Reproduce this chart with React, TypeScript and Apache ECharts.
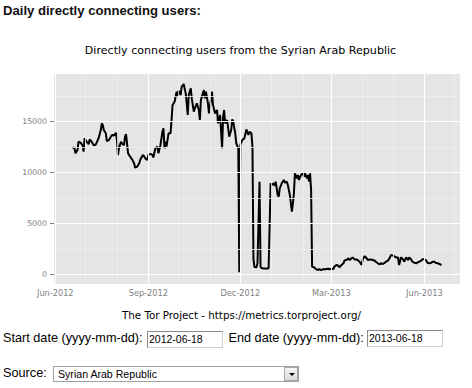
import React, { useEffect, useRef } from "react";
import * as echarts from "echarts";

const dates: string[] = [
  "2012-06-18","2012-06-20","2012-06-21","2012-06-23","2012-06-24","2012-06-26","2012-06-28","2012-06-29","2012-06-30",
  "2012-07-02","2012-07-04","2012-07-05","2012-07-07","2012-07-09","2012-07-11","2012-07-13","2012-07-14","2012-07-16",
  "2012-07-17","2012-07-18","2012-07-19","2012-07-21","2012-07-22","2012-07-24","2012-07-26","2012-07-27","2012-07-29",
  "2012-07-31","2012-08-01","2012-08-02","2012-08-03","2012-08-05","2012-08-06","2012-08-08","2012-08-09","2012-08-10",
  "2012-08-12","2012-08-13","2012-08-14","2012-08-16","2012-08-18","2012-08-19","2012-08-21","2012-08-23","2012-08-24",
  "2012-08-26","2012-08-27","2012-08-29","2012-08-31","2012-09-01","2012-09-03","2012-09-05","2012-09-06","2012-09-08",
  "2012-09-10","2012-09-11","2012-09-13","2012-09-15","2012-09-16","2012-09-17","2012-09-18","2012-09-19","2012-09-21",
  "2012-09-23","2012-09-24","2012-09-25","2012-09-27","2012-09-29","2012-09-30","2012-10-01","2012-10-03","2012-10-04",
  "2012-10-06","2012-10-08","2012-10-09","2012-10-10","2012-10-11","2012-10-13","2012-10-14","2012-10-16","2012-10-17",
  "2012-10-19","2012-10-21","2012-10-22","2012-10-23","2012-10-25","2012-10-26","2012-10-27","2012-10-28","2012-10-30",
  "2012-10-31","2012-11-01","2012-11-03","2012-11-04","2012-11-06","2012-11-08","2012-11-09","2012-11-11","2012-11-13",
  "2012-11-14","2012-11-15","2012-11-16","2012-11-18","2012-11-19","2012-11-20","2012-11-22","2012-11-23","2012-11-24",
  "2012-11-26","2012-11-27","2012-11-29","2012-11-30","2012-12-01","2012-12-03","2012-12-05","2012-12-07","2012-12-09",
  "2012-12-10","2012-12-12","2012-12-13","2012-12-14","2012-12-15","2012-12-17","2012-12-18","2012-12-20","2012-12-21",
  "2012-12-22","2012-12-24","2012-12-26","2012-12-28","2012-12-29","2012-12-31","2013-01-01","2013-01-03","2013-01-04",
  "2013-01-05","2013-01-07","2013-01-08","2013-01-09","2013-01-11","2013-01-13","2013-01-14","2013-01-16","2013-01-17",
  "2013-01-19","2013-01-21","2013-01-22","2013-01-23","2013-01-24","2013-01-26","2013-01-27","2013-01-28","2013-01-30",
  "2013-02-01","2013-02-02","2013-02-03","2013-02-05","2013-02-06","2013-02-07","2013-02-08","2013-02-09","2013-02-10",
  "2013-02-12","2013-02-14","2013-02-16","2013-02-17","2013-02-19","2013-02-21","2013-02-23","2013-02-24","2013-02-26",
  "2013-02-27","2013-03-01","2013-03-03","2013-03-04","2013-03-06","2013-03-08","2013-03-09","2013-03-11","2013-03-13",
  "2013-03-14","2013-03-15","2013-03-16","2013-03-18","2013-03-19","2013-03-21","2013-03-22","2013-03-24","2013-03-26",
  "2013-03-27","2013-03-29","2013-03-31","2013-04-01","2013-04-03","2013-04-05","2013-04-06","2013-04-08","2013-04-09",
  "2013-04-11","2013-04-13","2013-04-14","2013-04-16","2013-04-18","2013-04-19","2013-04-21","2013-04-23","2013-04-24",
  "2013-04-26","2013-04-28","2013-04-29","2013-05-01","2013-05-02","2013-05-04","2013-05-06","2013-05-07","2013-05-09",
  "2013-05-11","2013-05-12","2013-05-14","2013-05-16","2013-05-17","2013-05-19","2013-05-20","2013-05-22","2013-05-24",
  "2013-05-25","2013-05-27","2013-05-29","2013-05-30","2013-06-01","2013-06-03","2013-06-04","2013-06-06","2013-06-08",
  "2013-06-09","2013-06-11","2013-06-12","2013-06-14","2013-06-16","2013-06-18",
];

const users: number[] = [
  12490,12400,11900,12225,13040,12950,12700,12060,13370,
  13040,12800,13270,13040,12700,12750,13200,13430,14190,
  14840,14680,14190,13860,13110,13200,13530,13700,13650,
  13920,13200,11740,12400,13040,12870,12700,13530,13790,
  11900,11740,11580,11310,10920,10490,10590,10920,11250,
  11640,11740,11410,11250,11740,11840,11740,11500,12400,
  12560,11900,12700,14020,14350,12400,13040,12560,13860,
  13860,15170,16640,16960,17940,17450,18040,17610,18430,
  18700,17780,16800,15660,17610,18270,17290,15990,16310,
  16800,16150,15170,17120,17780,18100,17290,17940,16800,
  15820,16480,17940,16640,15820,16150,14840,15660,12400,
  15500,16150,14840,15170,14350,13530,14190,15230,15000,
  13860,12870,12400,250,12720,13200,13370,14250,13700,
  14020,13860,12560,1500,750,725,1120,9120,785,
  650,600,620,600,650,8960,8800,8960,8700,
  9120,7810,7650,8470,8960,9290,9040,9120,8800,
  7810,6180,7000,7980,9940,9450,9780,9290,9780,
  9940,9610,9940,9450,9780,9120,9940,8300,785,
  725,525,460,555,460,555,520,555,590,
  525,590,555,785,950,880,725,950,1120,
  1375,1440,1440,1600,1440,1600,1700,1500,1500,
  1440,1275,950,1500,1830,1600,1440,1500,1500,
  1440,1375,1275,1120,1020,1120,1050,1180,1275,
  1375,1700,1930,1870,1830,1700,1700,950,1700,
  1500,1275,1700,1440,1700,1500,1275,1180,1120,
  1180,1275,1375,1510,1510,1375,1180,1120,1180,
  1275,1275,1180,1120,1050,950,
];

const xMajorDates: string[] = ["2012-06-01", "2012-09-01", "2012-12-01", "2013-03-01", "2013-06-01"];
const xMajorLabels: string[] = ["Jun-2012", "Sep-2012", "Dec-2012", "Mar-2013", "Jun-2013"];
const xMinorDates: string[] = [
  "2012-07-01", "2012-08-01", "2012-10-01", "2012-11-01", "2013-01-01",
  "2013-02-01", "2013-04-01", "2013-05-01", "2013-07-01",
];
const yMajorTicks: number[] = [0, 5000, 10000, 15000];
const yMinorTicks: number[] = [2500, 7500, 12500, 17500];

const chartTitle = "Directly connecting users from the Syrian Arab Republic";
const caption = "The Tor Project - https://metrics.torproject.org/";

const ts = (s: string) => Date.parse(s + "T00:00:00Z");

function Chart() {
  const ref = useRef<HTMLDivElement>(null);
  useEffect(() => {
    if (!ref.current) return;
    const chart = echarts.init(ref.current, undefined, { renderer: "svg" });
    const majorX = xMajorDates.map(ts);
    const minorLine = { color: "#EFEFEF", width: 0.8, type: "solid" };
    const majorLine = { color: "#FFFFFF", width: 1.1, type: "solid" };
    const gridMarks: any[] = [
      ...xMinorDates.map((d) => ({ xAxis: ts(d), lineStyle: minorLine })),
      ...yMinorTicks.map((v) => ({ yAxis: v, lineStyle: minorLine })),
      ...majorX.map((v) => ({ xAxis: v, lineStyle: majorLine })),
      ...yMajorTicks.map((v) => ({ yAxis: v, lineStyle: majorLine })),
    ];
    chart.setOption({
      animation: false,
      textStyle: { fontFamily: "DejaVu Sans" },
      grid: {
        left: 54,
        top: 74,
        width: 406,
        height: 210,
        show: true,
        backgroundColor: "#E5E5E5",
        borderWidth: 0,
      },
      graphic: [
        {
          type: "text",
          x: 240.5,
          y: 50.5,
          style: {
            text: chartTitle,
            fontSize: 11.1,
            fontFamily: "DejaVu Sans",
            fill: "#000",
            align: "center",
            verticalAlign: "middle",
          },
        },
        {
          type: "text",
          x: 241.5,
          y: 315,
          style: {
            text: caption,
            fontSize: 10.3,
            fontFamily: "DejaVu Sans",
            fill: "#000",
            align: "center",
            verticalAlign: "middle",
          },
        },
      ],
      xAxis: {
        type: "value",
        min: Date.UTC(2012, 4, 30, 18),
        max: Date.UTC(2013, 6, 6, 6),
        axisLine: { show: false },
        splitLine: { show: false },
        axisTick: {
          show: true,
          customValues: majorX,
          length: 3,
          lineStyle: { color: "#7F7F7F", width: 1 },
        },
        axisLabel: {
          customValues: majorX,
          color: "#7F7F7F",
          fontSize: 8.2,
          margin: 5,
          fontFamily: "DejaVu Sans",
          formatter: (v: number) => {
            const i = majorX.indexOf(v);
            return i >= 0 ? xMajorLabels[i] : "";
          },
        },
      },
      yAxis: {
        type: "value",
        min: -910,
        max: 19680,
        axisLine: { show: false },
        splitLine: { show: false },
        axisTick: {
          show: true,
          customValues: yMajorTicks,
          length: 4,
          lineStyle: { color: "#7F7F7F", width: 1 },
        },
        axisLabel: {
          customValues: yMajorTicks,
          color: "#7F7F7F",
          fontSize: 7.8,
          margin: 7,
          fontFamily: "DejaVu Sans",
          formatter: (v: number) => String(Math.round(v)),
        },
      },
      series: [
        {
          type: "line",
          data: [],
          z: 1,
          silent: true,
          markLine: {
            silent: true,
            symbol: ["none", "none"],
            label: { show: false },
            lineStyle: { type: "solid" },
            data: gridMarks,
          },
        },
        {
          type: "line",
          z: 3,
          data: dates.map((d, i) => [ts(d), users[i]]),
          showSymbol: false,
          symbol: "none",
          lineStyle: { color: "#000", width: 2 },
        },
      ],
    });
    return () => chart.dispose();
  }, []);
  return (
    <div
      ref={ref}
      style={{ position: "absolute", left: 0, top: 0, width: 472, height: 330 }}
    />
  );
}

const sans = "'Liberation Sans', Arial, sans-serif";

export default function App() {
  const boxBase: React.CSSProperties = {
    position: "absolute",
    boxSizing: "border-box",
    background: "#fff",
    borderTop: "1px solid #8a8a8a",
    borderLeft: "1px solid #8a8a8a",
    borderRight: "1px solid #d0d0d0",
    borderBottom: "1px solid #d0d0d0",
    fontFamily: sans,
    fontSize: 10.5,
    lineHeight: "15px",
    paddingLeft: 1,
    color: "#000",
    whiteSpace: "nowrap",
  };
  return (
    <div
      style={{
        position: "absolute",
        left: 0,
        top: 0,
        width: 472,
        height: 388,
        background: "#fff",
        overflow: "hidden",
        fontFamily: sans,
      }}
    >
      <Chart />
      <div
        style={{
          position: "absolute",
          left: 3,
          top: 3,
          fontSize: 13.1,
          lineHeight: "15px",
          fontWeight: "bold",
          color: "#111",
          whiteSpace: "nowrap",
        }}
      >
        Daily directly connecting users:
      </div>
      <div
        style={{
          position: "absolute",
          left: 3,
          top: 331,
          fontSize: 12.7,
          lineHeight: "15px",
          color: "#000",
          whiteSpace: "nowrap",
        }}
      >
        Start date (yyyy-mm-dd):
      </div>
      <div style={{ ...boxBase, left: 147, top: 331, width: 76, height: 17 }}>2012-06-18</div>
      <div
        style={{
          position: "absolute",
          left: 228.5,
          top: 331,
          fontSize: 12.7,
          lineHeight: "15px",
          color: "#000",
          whiteSpace: "nowrap",
        }}
      >
        End date (yyyy-mm-dd):
      </div>
      <div style={{ ...boxBase, left: 367, top: 330, width: 76, height: 17 }}>2013-06-18</div>
      <div
        style={{
          position: "absolute",
          left: 3,
          top: 366,
          fontSize: 12.7,
          lineHeight: "15px",
          color: "#000",
          whiteSpace: "nowrap",
        }}
      >
        Source:
      </div>
      <div
        style={{
          ...boxBase,
          left: 53,
          top: 365.5,
          width: 246,
          height: 16,
          borderTop: "1px solid #a0a0a0",
          borderLeft: "1px solid #a0a0a0",
          borderRight: "1px solid #a0a0a0",
          borderBottom: "1px solid #a0a0a0",
          paddingLeft: 4,
          fontSize: 10.6,
          lineHeight: "14px",
        }}
      >
        Syrian Arab Republic
        <div
          style={{
            position: "absolute",
            right: 0,
            top: 0,
            width: 14,
            height: 14,
            boxSizing: "border-box",
            border: "1px solid #a8a8a8",
            background: "linear-gradient(#f4f4f4, #dcdcdc)",
          }}
        >
          <div
            style={{
              position: "absolute",
              left: 3.5,
              top: 5,
              width: 0,
              height: 0,
              borderLeft: "3px solid transparent",
              borderRight: "3px solid transparent",
              borderTop: "3px solid #000",
            }}
          />
        </div>
      </div>
    </div>
  );
}
